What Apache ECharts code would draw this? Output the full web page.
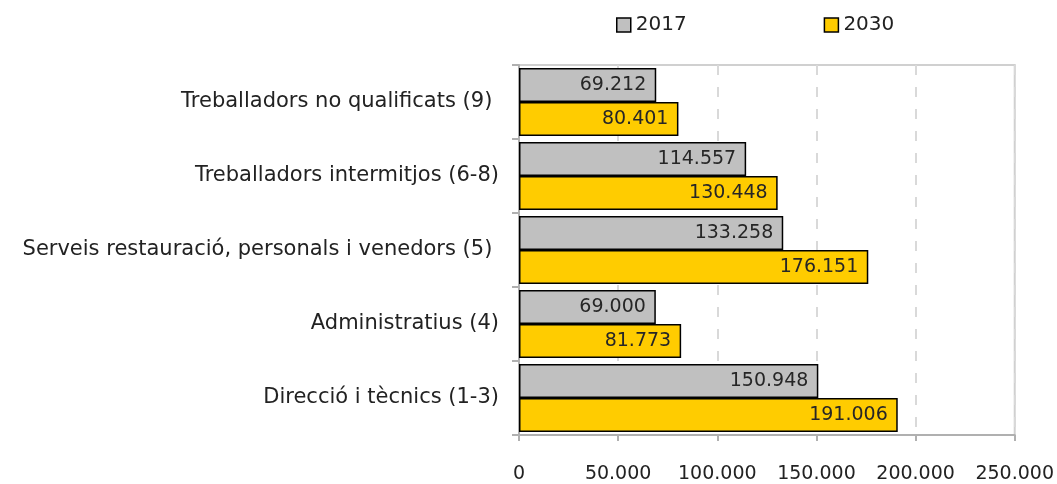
<!DOCTYPE html>
<html><head><meta charset="utf-8">
<script src="https://cdn.jsdelivr.net/npm/echarts@6/dist/echarts.min.js"></script>
<style>html,body{margin:0;padding:0;background:#fff}#c{width:1057px;height:484px}</style>
</head><body><div id="c"></div>
<script>
const categories = [
  'Treballadors no qualificats (9) ',
  'Treballadors intermitjos (6-8)',
  'Serveis restauració, personals i venedors (5) ',
  'Administratius (4)',
  'Direcció i tècnics (1-3)'
];
const values2017 = [69212, 114557, 133258, 69000, 150948];
const values2030 = [80401, 130448, 176151, 81773, 191006];
const seriesNames = ['2017', '2030'];
const xTicks = { min: 0, max: 250000, interval: 50000 };

function fmt(v) {
  return String(Math.round(v)).replace(/\B(?=(\d{3})+(?!\d))/g, '.');
}
const font = 'DejaVu Sans';
const chart = echarts.init(document.getElementById('c'), null, { renderer: 'canvas' });
chart.setOption({
  animation: false,
  legend: {
    top: 10, left: 611, itemWidth: 14, itemHeight: 14, itemGap: 137,
    textStyle: { fontFamily: font, fontSize: 20, color: '#222' },
    data: seriesNames.map(n => ({ name: n, icon: 'rect' })),
    itemStyle: { borderColor: '#000', borderWidth: 1.5 }
  },
  grid: { left: 519, right: 41, top: 65, bottom: 49, show: true, borderColor: '#d0d0d0', borderWidth: 2 },
  xAxis: {
    type: 'value', min: xTicks.min, max: xTicks.max, interval: xTicks.interval,
    axisLine: { show: true, lineStyle: { color: '#b0b0b0', width: 2 } },
    axisTick: { show: true, length: 6, lineStyle: { color: '#b0b0b0', width: 2 } },
    axisLabel: { margin: 30, fontFamily: font, fontSize: 19, color: '#222', formatter: fmt },
    splitLine: { show: true, lineStyle: { color: '#d9d9d9', type: [10, 12], width: 2 } }
  },
  yAxis: {
    type: 'category', data: categories, inverse: true,
    axisLine: { show: true, lineStyle: { color: '#b0b0b0', width: 2 } },
    axisTick: { show: true, length: 7, lineStyle: { color: '#b0b0b0', width: 2 } },
    axisLabel: { margin: 20, fontFamily: font, fontSize: 21, color: '#222' },
    splitLine: { show: false }
  },
  series: [
    {
      name: seriesNames[0], type: 'bar', data: values2017,
      barGap: '0%', barCategoryGap: '8%',
      itemStyle: { color: '#c0c0c0', borderColor: '#000', borderWidth: 1.5 },
      label: { show: true, position: 'insideRight', distance: 10, fontFamily: font, fontSize: 19, color: '#262626',
        formatter: p => fmt(p.value) }
    },
    {
      name: seriesNames[1], type: 'bar', data: values2030,
      barGap: '0%', barCategoryGap: '8%',
      itemStyle: { color: '#ffcc00', borderColor: '#000', borderWidth: 1.5 },
      label: { show: true, position: 'insideRight', distance: 10, fontFamily: font, fontSize: 19, color: '#262626',
        formatter: p => fmt(p.value) }
    }
  ]
});
</script></body></html>
